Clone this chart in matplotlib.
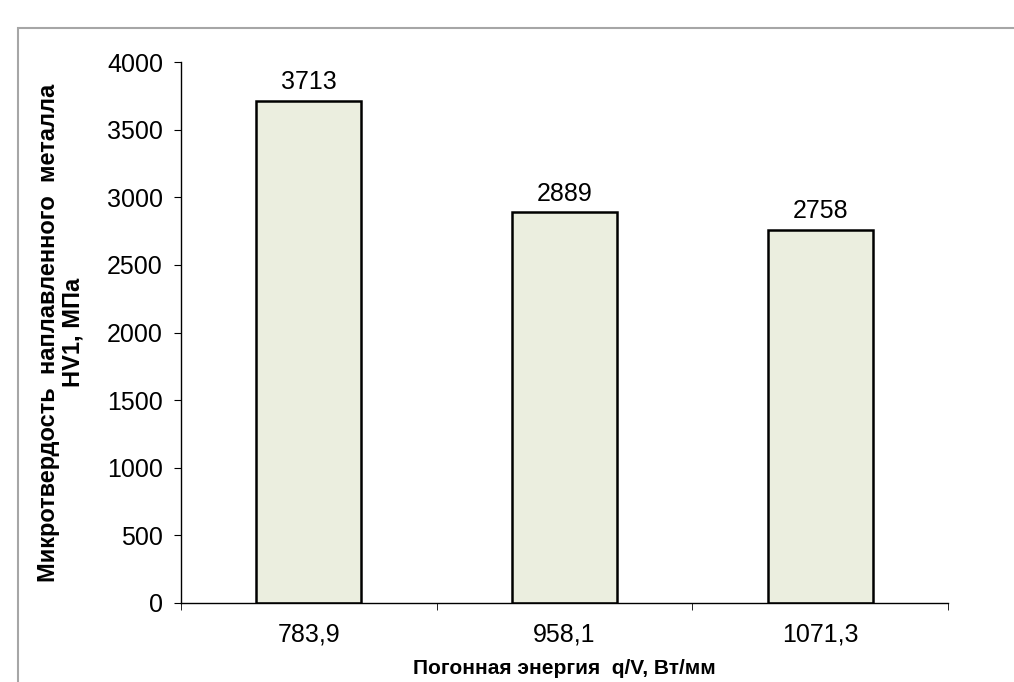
import matplotlib.pyplot as plt
from matplotlib.patches import Rectangle

plt.rcParams['font.family'] = ['Liberation Sans', 'DejaVu Sans']

# data
energies = ['783,9', '958,1', '1071,3']
hardness = [3713, 2889, 2758]
y_ticks = [0, 500, 1000, 1500, 2000, 2500, 3000, 3500, 4000]

fig = plt.figure(figsize=(10.14, 6.82), dpi=100)

# grey frame of the chart area (open to the right and bottom)
fig.patches.append(Rectangle((18 / 1014, -0.1), 1.2, 1.1 - 28 / 682,
                             transform=fig.transFigure, fill=False,
                             edgecolor='#a6a6a6', linewidth=1.5))

ax = fig.add_axes([181 / 1014, 1 - 603 / 682, (948 - 181) / 1014, (603 - 62) / 682])

x = list(range(len(energies)))
bars = ax.bar(x, hardness, width=0.41, color='#ebeedf', edgecolor='black', linewidth=1.8)

for xi, v in zip(x, hardness):
    ax.text(xi, v + 50, str(v), ha='center', va='bottom', fontsize=18)

ax.set_xlim(-0.5, len(energies) - 0.5)
ax.set_ylim(0, 4000)
ax.set_yticks(y_ticks)
ax.set_xticks(x)
ax.set_xticklabels(energies)
ax.set_xticks([-0.5, 0.5, 1.5, 2.5], minor=True)
ax.tick_params(axis='x', which='major', length=0, pad=14, labelsize=18)
ax.tick_params(axis='x', which='minor', length=5, direction='out')
ax.tick_params(axis='y', length=5, direction='out', pad=8, labelsize=18)

for side in ['top', 'right']:
    ax.spines[side].set_visible(False)
for side in ['left', 'bottom']:
    ax.spines[side].set_linewidth(1.0)

ax.set_xlabel('Погонная энергия  q/V, Вт/мм', fontsize=15, fontweight='bold', labelpad=9)
ax.set_ylabel('Микротвердость  наплавленного  металла\nHV1, МПа', fontsize=17,
              fontweight='bold', labelpad=16, linespacing=1.1)

fig.savefig('out.png', dpi=100)
